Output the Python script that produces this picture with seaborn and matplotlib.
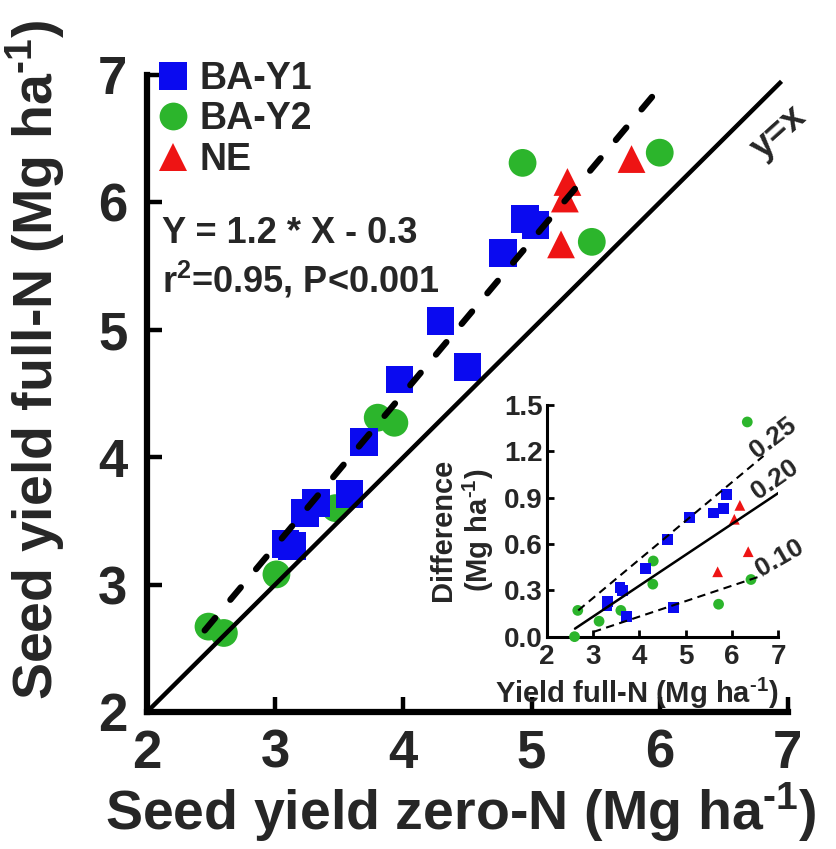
import matplotlib
matplotlib.use('Agg')
import matplotlib.pyplot as plt
import numpy as np
import pandas as pd
import seaborn as sns

# main panel: seed yield zero-N (x) vs full-N (y), Mg ha-1
ba_y1_zero = [3.08, 3.13, 3.23, 3.32, 3.58, 3.69, 3.97, 4.29, 4.50, 4.78, 4.95, 5.03]
ba_y1_full = [3.32, 3.30, 3.56, 3.64, 3.71, 4.12, 4.61, 5.07, 4.71, 5.60, 5.87, 5.82]
ba_y2_zero = [2.48, 2.60, 3.01, 3.47, 3.80, 3.93, 4.93, 5.47, 6.00]
ba_y2_full = [2.67, 2.62, 3.08, 3.60, 4.31, 4.27, 6.31, 5.69, 6.39]
ne_zero = [5.23, 5.26, 5.28, 5.78]
ne_full = [5.67, 6.03, 6.16, 6.34]

# inset: yield full-N vs difference (full - zero)
in_y1_full = [3.30, 3.32, 3.58, 3.64, 3.73, 4.14, 4.61, 4.73, 5.09, 5.60, 5.81, 5.88]
in_y1_diff = [0.20, 0.23, 0.32, 0.30, 0.13, 0.44, 0.63, 0.19, 0.77, 0.80, 0.83, 0.92]
in_y2_full = [2.60, 2.67, 3.13, 3.60, 4.29, 4.30, 5.71, 6.33, 6.41]
in_y2_diff = [0.00, 0.17, 0.10, 0.17, 0.34, 0.49, 0.21, 1.39, 0.37]
in_ne_full = [5.69, 6.05, 6.17, 6.35]
in_ne_diff = [0.42, 0.76, 0.85, 0.55]

# regression of main panel
fit_slope, fit_icpt = 1.2, -0.3
fit_range = [2.45, 5.95]
# inset reference lines (slope labels 0.25 / 0.20 / 0.10)
ref_labels = ['0.25', '0.20', '0.10']
ref_slopes = [0.25, 0.20, 0.10]
ref_icpts = [-0.50, -0.47, -0.27]
ref_start = [2.68, 2.61, 3.0]
ref_end = [6.68, 7.0, 6.68]

sites = ['BA-Y1', 'BA-Y2', 'NE']
colors = {'BA-Y1': '#0a0af0', 'BA-Y2': '#2cb52c', 'NE': '#ee1414'}
markers = {'BA-Y1': 's', 'BA-Y2': 'o', 'NE': '^'}

unit = r'(Mg ha$^{\text{-}1}$)'

# green drawn first so squares sit on top
main_df = pd.concat([
    pd.DataFrame({'site': 'BA-Y2', 'zero': ba_y2_zero, 'full': ba_y2_full}),
    pd.DataFrame({'site': 'BA-Y1', 'zero': ba_y1_zero, 'full': ba_y1_full}),
    pd.DataFrame({'site': 'NE', 'zero': ne_zero, 'full': ne_full}),
], ignore_index=True)
inset_df = pd.concat([
    pd.DataFrame({'site': 'BA-Y2', 'full': in_y2_full, 'diff': in_y2_diff}),
    pd.DataFrame({'site': 'BA-Y1', 'full': in_y1_full, 'diff': in_y1_diff}),
    pd.DataFrame({'site': 'NE', 'full': in_ne_full, 'diff': in_ne_diff}),
], ignore_index=True)

sns.set_style('ticks')
plt.rcParams['font.family'] = ['Liberation Sans', 'DejaVu Sans']
plt.rcParams['font.weight'] = 'bold'
plt.rcParams['mathtext.fontset'] = 'custom'
plt.rcParams['mathtext.rm'] = 'Liberation Sans:bold'
plt.rcParams['mathtext.bf'] = 'Liberation Sans:bold'
plt.rcParams['mathtext.it'] = 'Liberation Sans:bold'
plt.rcParams['mathtext.default'] = 'regular'

fig = plt.figure(figsize=(8.36, 8.49), dpi=100)
ax = fig.add_axes([0.1758, 0.1614, 0.7667, 0.7503])

sns.scatterplot(data=main_df, x='zero', y='full', hue='site', style='site',
                hue_order=sites, style_order=sites, palette=colors,
                markers=markers, s=400, linewidth=0, alpha=1, ax=ax, zorder=3)

xs = np.array(fit_range)
ax.plot([2, 6.95], [2, 6.95], color='black', lw=3.2, zorder=4,
        solid_capstyle='butt')
ax.plot(xs, fit_slope * xs + fit_icpt, color='black', lw=4.5, zorder=4,
        dashes=(2.6, 3.8), dash_capstyle='round')

ax.set_xlim(2, 7)
ax.set_ylim(2, 7)
ax.set_xticks(range(2, 8))
ax.set_yticks(range(2, 8))
sns.despine(ax=ax)
for side in ['left', 'bottom']:
    ax.spines[side].set_linewidth(4.5)
    ax.spines[side].set_color('black')
ax.tick_params(direction='in', length=11, width=3.2, labelsize=38,
               color='black', pad=12)
ax.tick_params(axis='y', pad=14)
ax.set_xlabel('Seed yield zero-N ' + unit, fontsize=40, fontweight='bold',
              va='top')
ax.set_ylabel('Seed yield full-N ' + unit, fontsize=40, fontweight='bold')
ax.xaxis.set_label_coords(0.49, -0.108)
ax.yaxis.set_label_coords(-0.125, 0.553)

ax.text(6.93, 6.55, 'y=x', fontsize=26, fontweight='bold', rotation=42,
        ha='center', va='center')
ax.text(0.023, 0.736, 'Y = 1.2 * X - 0.3', transform=ax.transAxes,
        fontsize=26, fontweight='bold', va='baseline')
ax.text(0.023, 0.658, 'r$^2$=0.95, P<0.001', transform=ax.transAxes,
        fontsize=26, fontweight='bold', va='baseline')

handles, labels = ax.get_legend_handles_labels()
leg = ax.legend(handles, labels, loc='upper left', bbox_to_anchor=(0.012, 1.022),
                frameon=False, fontsize=27, handlelength=1.0, handletextpad=0.2,
                labelspacing=0.12, borderpad=0, borderaxespad=0)
for h in leg.legend_handles:
    h.set_markersize(20)
for t in leg.get_texts():
    t.set_fontweight('bold')

# inset
axi = fig.add_axes([0.654, 0.2501, 0.277, 0.2729], facecolor='none')
sns.scatterplot(data=inset_df, x='full', y='diff', hue='site', style='site',
                hue_order=sites, style_order=sites, palette=colors,
                markers=markers, s=60, linewidth=0, alpha=1, ax=axi,
                legend=False, zorder=3, clip_on=False)
rot = [37, 35, 30]
lab_xy = [(6.89, 1.284), (6.93, 1.02), (7.02, 0.507)]
for i in range(3):
    xx = np.array([ref_start[i], ref_end[i]])
    yy = ref_slopes[i] * xx + ref_icpts[i]
    if ref_labels[i] == '0.20':
        axi.plot(xx, yy, color='black', lw=1.8, zorder=4)
    else:
        axi.plot(xx, yy, color='black', lw=1.5, zorder=4, dashes=(4, 2.6))
    axi.text(lab_xy[i][0], lab_xy[i][1], ref_labels[i], fontsize=19,
             fontweight='bold', rotation=rot[i], ha='center', va='center',
             clip_on=False)

axi.set_xlim(2, 7)
axi.set_ylim(0, 1.5)
axi.set_xticks(range(2, 8))
axi.set_yticks([0.0, 0.3, 0.6, 0.9, 1.2, 1.5])
axi.set_yticklabels(['0.0', '0.3', '0.6', '0.9', '1.2', '1.5'])
sns.despine(ax=axi)
for side in ['left', 'bottom']:
    axi.spines[side].set_linewidth(2.2)
    axi.spines[side].set_color('black')
axi.tick_params(direction='in', length=5, width=2, labelsize=20,
                color='black')
axi.tick_params(axis='x', pad=5)
axi.tick_params(axis='y', pad=3)
axi.set_xlabel('Yield full-N ' + unit, fontsize=21, fontweight='bold',
               va='top')
axi.set_ylabel('Difference\n' + unit, fontsize=21, fontweight='bold',
               linespacing=1.15)
axi.xaxis.set_label_coords(0.39, -0.17)
axi.yaxis.set_label_coords(-0.22, 0.46)

fig.savefig('out.png', dpi=100)
